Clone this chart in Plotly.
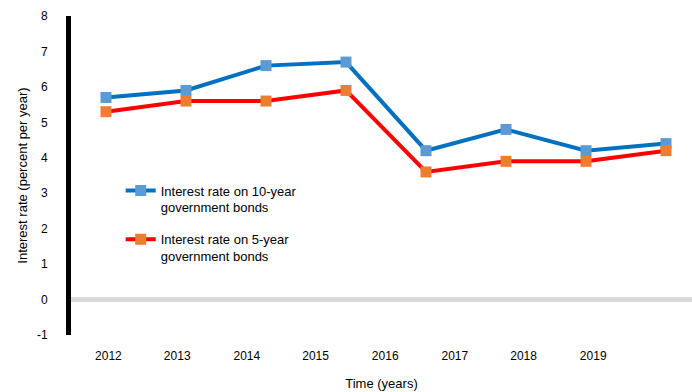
import plotly.graph_objects as go

# ---- data ----
points = [0, 1, 2, 3, 4, 5, 6, 7]
series_a_name = "Interest rate on 10-year<br>government bonds"
series_b_name = "Interest rate on 5-year<br>government bonds"
series_a = [5.7, 5.9, 6.6, 6.7, 4.2, 4.8, 4.2, 4.4]
series_b = [5.3, 5.6, 5.6, 5.9, 3.6, 3.9, 3.9, 4.2]

x_tick_pos = [0.03, 0.89, 1.76, 2.62, 3.49, 4.36, 5.22, 6.09]
x_tick_labels = ["2012", "2013", "2014", "2015", "2016", "2017", "2018", "2019"]
y_tick_vals = [-1, 0, 1, 2, 3, 4, 5, 6, 7, 8]
y_tick_labels = ["-1", "0", "1", "2", "3", "4", "5", "6", "7", "8"]

x_title = "Time (years)"
y_title = "Interest rate (percent per year)"

FONT = "Liberation Sans"

fig = go.Figure()
fig.add_trace(go.Scatter(
    x=points, y=series_a, name=series_a_name, mode="lines+markers",
    legendgroup="a",
    line=dict(color="#0070C0", width=4),
    marker=dict(symbol="square", size=11, color="#5B9BD5",
                line=dict(color="#5B9BD5", width=0)),
))
fig.add_trace(go.Scatter(
    x=points, y=series_b, name=series_b_name, mode="lines+markers",
    legendgroup="b",
    line=dict(color="#FF0000", width=4),
    marker=dict(symbol="square", size=11, color="#ED7D31",
                line=dict(color="#ED7D31", width=0)),
))

fig.update_layout(
    width=692, height=392,
    margin=dict(l=71, r=0, t=16, b=57),
    paper_bgcolor="white", plot_bgcolor="white",
    font=dict(family=FONT, size=13, color="#000000"),
    showlegend=True,
    legend=dict(
        x=0.08, y=0.5, xanchor="left", yanchor="top",
        bgcolor="rgba(0,0,0,0)", valign="top",
        tracegroupgap=12,
        font=dict(family=FONT, size=13, color="#000000"),
    ),
    xaxis=dict(
        range=[-0.4375, 7.325],
        tickmode="array", tickvals=x_tick_pos, ticktext=x_tick_labels,
        showgrid=False, zeroline=False, showline=False,
        ticks="", ticklabelstandoff=12,
        tickfont=dict(size=12),
        title=dict(text=x_title, font=dict(size=13), standoff=16),
    ),
    yaxis=dict(
        range=[-1, 8],
        tickmode="array", tickvals=y_tick_vals, ticktext=y_tick_labels,
        showgrid=False,
        zeroline=True, zerolinecolor="#D9D9D9", zerolinewidth=5,
        showline=True, linecolor="#000000", linewidth=5,
        ticks="", ticklabelstandoff=16,
        tickfont=dict(size=12),
        title=dict(text=y_title, font=dict(size=13), standoff=8),
    ),
)

fig.write_html("out.html")
